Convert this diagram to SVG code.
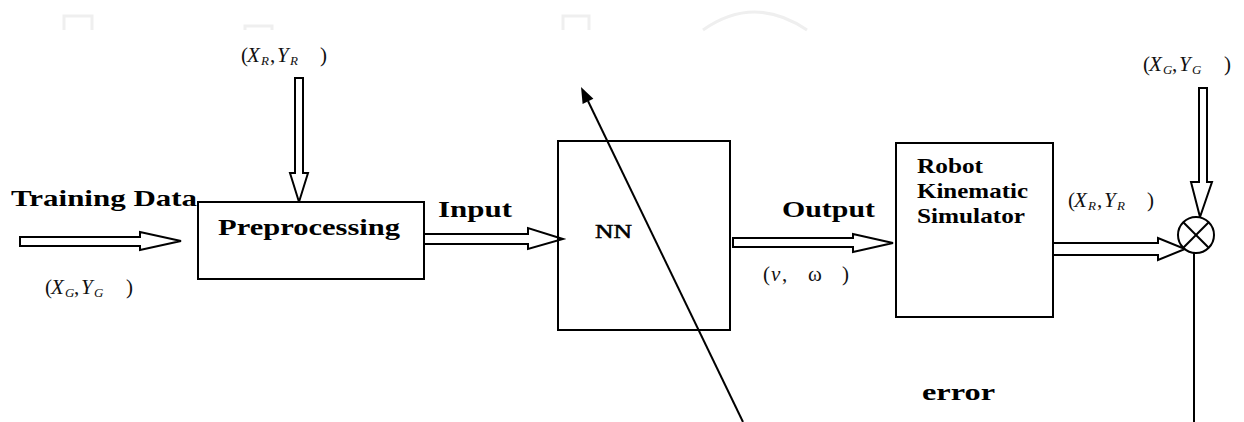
<svg xmlns="http://www.w3.org/2000/svg" width="1244" height="422" viewBox="0 0 1244 422">
<style>
.box{fill:#fff;stroke:#000;stroke-width:2}
.blk{fill:#fff;stroke:#000;stroke-width:2;stroke-linejoin:miter}
.ln{fill:none;stroke:#000;stroke-width:2}
.wm{fill:none;stroke:#efefef;stroke-width:3}
.b{font-family:'Liberation Serif',serif;font-weight:bold;fill:#000}
.r{font-family:'Liberation Serif',serif;fill:#000}
.m{font-family:'Liberation Serif',serif;font-style:italic;font-size:21px;fill:#111}
.s{font-size:13px}
.p{font-style:normal}
</style>
<g id="watermark">
<path class="wm" d="M64,30 V16 H92 V30"/>
<path class="wm" d="M245,30 V26 H272 V30"/>
<path class="wm" d="M563,30 V16 H589 V30"/>
<path class="wm" d="M703,30 Q754,-6 807,30"/>
</g>
<g id="connectors">
<polygon class="blk" points="20,237 140,237 140,232 181,241 140,250 140,246 20,246"/>
<polygon class="blk" points="295,78 303,78 303,173 308,173 299,202 290,173 295,173"/>
<polygon class="blk" points="424,234 528,234 528,228 563,239 528,249 528,244 424,244"/>
<polygon class="blk" points="733,238 853,238 853,234 893,243 853,252 853,247 733,247"/>
<polygon class="blk" points="1053,243 1158,243 1158,238 1185,249 1158,260 1158,255 1053,255"/>
<polygon class="blk" points="1199,88 1207,88 1207,182 1212,182 1200,217 1191,182 1199,182"/>
<line class="ln" x1="1194" y1="253" x2="1194" y2="422"/>
<line class="ln" x1="743" y1="422" x2="588" y2="101"/>
<polygon points="581,87 593.4,98.8 582.6,104" fill="#000"/>
</g>
<g id="preprocessing">
<rect class="box" x="198" y="202" width="226" height="77"/>
<text class="b" x="218" y="235" font-size="24" textLength="182" lengthAdjust="spacingAndGlyphs">Preprocessing</text>
</g>
<g id="nn">
<rect class="box" x="558" y="141" width="172" height="189" style="fill:none"/>
<text class="r" x="595" y="238" font-size="19" stroke="#000" stroke-width="0.5" textLength="37" lengthAdjust="spacingAndGlyphs">NN</text>
</g>
<g id="robot">
<rect class="box" x="896" y="143" width="157" height="174"/>
<text class="b" font-size="21" x="917" y="173" textLength="66" lengthAdjust="spacingAndGlyphs">Robot</text>
<text class="b" font-size="21" x="917" y="198" textLength="111" lengthAdjust="spacingAndGlyphs">Kinematic</text>
<text class="b" font-size="21" x="917" y="223" textLength="108" lengthAdjust="spacingAndGlyphs">Simulator</text>
</g>
<g id="sum">
<circle cx="1196" cy="235" r="18" fill="#fff" stroke="#000" stroke-width="2"/>
<line class="ln" x1="1183.3" y1="222.3" x2="1208.7" y2="247.7"/>
<line class="ln" x1="1208.7" y1="222.3" x2="1183.3" y2="247.7"/>
</g>
<g id="labels">
<text class="b" x="11" y="206" font-size="24" textLength="186" lengthAdjust="spacingAndGlyphs">Training Data</text>
<text class="b" x="438" y="217" font-size="23" textLength="74" lengthAdjust="spacingAndGlyphs">Input</text>
<text class="b" x="782" y="217" font-size="23" textLength="93" lengthAdjust="spacingAndGlyphs">Output</text>
<text class="b" x="922" y="400" font-size="23" textLength="73" lengthAdjust="spacingAndGlyphs">error</text>
<text class="m" y="294"><tspan class="p" x="45">(</tspan><tspan x="51">X</tspan><tspan class="s" x="65" dy="3">G</tspan><tspan class="p" x="74" dy="-3">,</tspan><tspan x="81">Y</tspan><tspan class="s" x="94" dy="3">G</tspan><tspan class="p" x="126" dy="-3">)</tspan></text>
<text class="m" y="62"><tspan class="p" x="241">(</tspan><tspan x="247">X</tspan><tspan class="s" x="261" dy="3">R</tspan><tspan class="p" x="270" dy="-3">,</tspan><tspan x="277">Y</tspan><tspan class="s" x="290" dy="3">R</tspan><tspan class="p" x="320" dy="-3">)</tspan></text>
<text class="m" y="207"><tspan class="p" x="1068">(</tspan><tspan x="1074">X</tspan><tspan class="s" x="1088" dy="3">R</tspan><tspan class="p" x="1097" dy="-3">,</tspan><tspan x="1104">Y</tspan><tspan class="s" x="1117" dy="3">R</tspan><tspan class="p" x="1147" dy="-3">)</tspan></text>
<text class="m" y="71"><tspan class="p" x="1143">(</tspan><tspan x="1149">X</tspan><tspan class="s" x="1163" dy="3">G</tspan><tspan class="p" x="1172" dy="-3">,</tspan><tspan x="1179">Y</tspan><tspan class="s" x="1192" dy="3">G</tspan><tspan class="p" x="1224" dy="-3">)</tspan></text>
<text class="m" y="281" font-size="21"><tspan class="p" x="763">(</tspan><tspan x="771">v</tspan><tspan class="p" x="782">,</tspan><tspan class="p" x="808">ω</tspan><tspan class="p" x="842">)</tspan></text>
</g>
</svg>
